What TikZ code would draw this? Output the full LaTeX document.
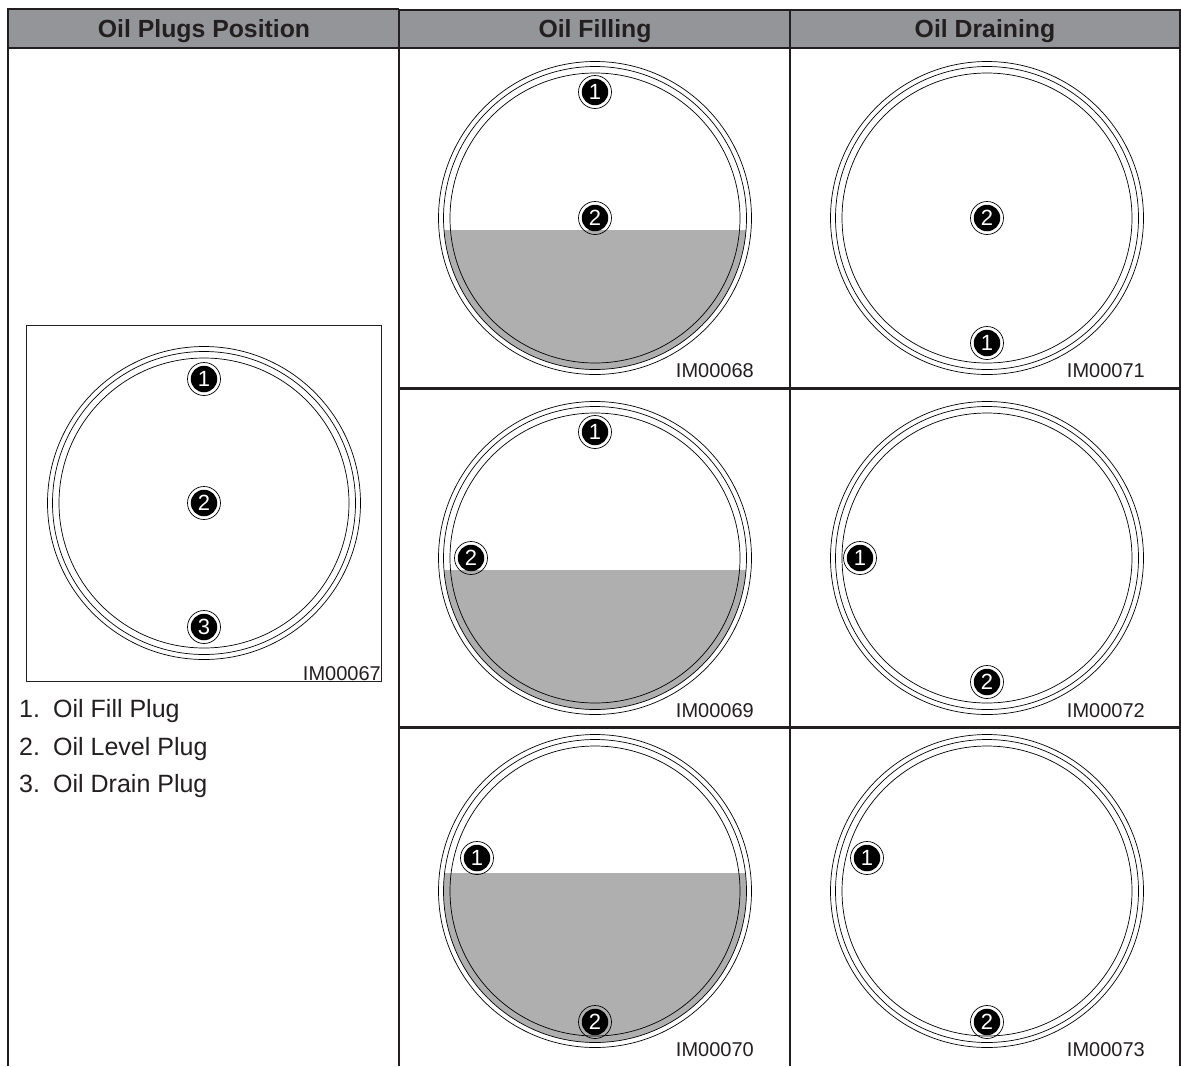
\documentclass[tikz,border=0pt]{standalone}
\usepackage{fontspec}
\setmainfont{Liberation Sans}
\definecolor{ink}{HTML}{231F20}
\definecolor{headgray}{HTML}{939598}
\definecolor{oilgray}{HTML}{AFAFAF}
\tikzset{
  rule/.style={draw=ink,line width=2.2pt},
  hrule/.style={draw=ink,line width=2.8pt},
  thinrule/.style={draw=ink,line width=1pt},
  ringline/.style={draw=black,line width=0.7pt},
  headtext/.style={font=\fontsize{24.8}{24.8}\selectfont\bfseries,text=ink},
  listtext/.style={font=\fontsize{25}{25}\selectfont,text=ink,anchor=base west,inner sep=0pt},
  imtext/.style={font=\fontsize{20}{20}\selectfont,text=ink,anchor=base east,inner sep=0pt},
  plugring/.style={circle,draw=black,line width=0.7pt,minimum size=33pt,inner sep=0pt},
  plugcore/.style={circle,fill=black,text=white,minimum size=26.5pt,inner sep=0pt,font=\fontsize{22}{22}\selectfont},
}
\newcommand{\gaugering}[2]{%
  \draw[ringline] (#1,#2) circle (156.5);
  \draw[ringline] (#1,#2) circle (151.5);
  \draw[ringline] (#1,#2) circle (145);
}
\newcommand{\gaugeoil}[3]{%
  \begin{scope}
    \clip (#1,#2) circle (151.5);
    \fill[oilgray] (#1-160,#3) rectangle (#1+160,#2+160);
  \end{scope}
}
\newcommand{\plugmark}[4]{%
  \node[plugring] (#4r) at (#1,#2) {};
  \node[plugcore] (#4) at (#1,#2) {#3};
}
\begin{document}
\begin{tikzpicture}[x=1pt,y=-1pt]
\useasboundingbox (0,0) rectangle (1181,1066);
\fill[white] (0,0) rectangle (1181,1066);
\fill[headgray] (8,9) rectangle (1181,48);
\node[headtext] (h1) at (204,31.5) {Oil Plugs Position};
\node[headtext] (h2) at (595,31.5) {Oil Filling};
\node[headtext] (h3) at (985,31.5) {Oil Draining};
\gaugeoil{595}{218}{230}
\gaugeoil{595}{558}{570}
\gaugeoil{595}{891}{873}
\gaugering{204}{503}
\gaugering{595}{218}
\gaugering{987}{218}
\gaugering{595}{558}
\gaugering{987}{558}
\gaugering{595}{891}
\gaugering{987}{891}
\draw[rule] (8,1066) -- (8,9) -- (399,9);
\draw[rule] (399,10) -- (1181,10);
\draw[hrule] (8,48) -- (1181,48);
\draw[rule] (399,9) -- (399,1066);
\draw[rule] (790,10) -- (790,1066);
\draw[rule] (1180.5,10) -- (1180.5,1066);
\draw[hrule] (399,388.3) -- (1181,388.3);
\draw[hrule] (399,727.3) -- (1181,727.3);
\draw[thinrule] (26,325) rectangle (381,681);
\plugmark{204}{379}{1}{pa}
\plugmark{204}{503}{2}{pb}
\plugmark{204}{627}{3}{pc}
\plugmark{595}{92}{1}{fa}
\plugmark{595}{218}{2}{fb}
\plugmark{987}{218}{2}{da}
\plugmark{987}{343}{1}{db}
\plugmark{595}{432}{1}{ga}
\plugmark{471}{558}{2}{gb}
\plugmark{860}{558}{1}{ea}
\plugmark{987}{682}{2}{eb}
\plugmark{477}{858}{1}{ja}
\plugmark{595}{1022}{2}{jb}
\plugmark{867}{858}{1}{ka}
\plugmark{987}{1022}{2}{kb}
\node[imtext] (i67) at (381,680) {IM00067};
\node[imtext] (i68) at (754,377) {IM00068};
\node[imtext] (i71) at (1145,377) {IM00071};
\node[imtext] (i69) at (754,717) {IM00069};
\node[imtext] (i72) at (1145,717) {IM00072};
\node[imtext] (i70) at (754,1056) {IM00070};
\node[imtext] (i73) at (1145,1056) {IM00073};
\node[listtext] (l1) at (19,717) {1.};
\node[listtext] (l1t) at (53,717) {Oil Fill Plug};
\node[listtext] (l2) at (19,755) {2.};
\node[listtext] (l2t) at (53,755) {Oil Level Plug};
\node[listtext] (l3) at (19,792) {3.};
\node[listtext] (l3t) at (53,792) {Oil Drain Plug};
\end{tikzpicture}
\end{document}
